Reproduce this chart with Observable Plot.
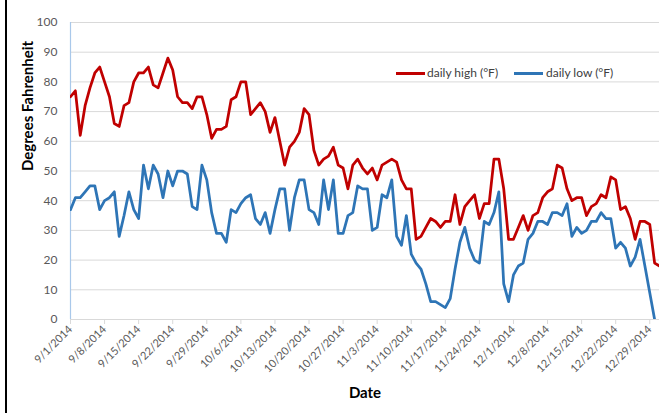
<!DOCTYPE html>
<html>
<head>
<meta charset="utf-8">
<script src="https://cdn.jsdelivr.net/npm/d3@7"></script>
<script src="https://cdn.jsdelivr.net/npm/@observablehq/plot@0.6"></script>
<style>
html, body { margin: 0; padding: 0; background: #fff; }
#wrap { position: relative; width: 666px; height: 413px; overflow: hidden; font-family: Lato, "Open Sans", sans-serif; background: #fff; }
#border { position: absolute; left: 5px; top: 0; width: 2px; height: 413px; background: #000; }
.leg { position: absolute; font-size: 12px; color: #404040; line-height: 14px; white-space: nowrap; }
.sw { position: absolute; height: 3px; width: 29px; }
</style>
</head>
<body>
<div id="wrap"><div id="border"></div></div>
<script>
// ---- data ----
const startDate = "2014-09-01";
const endDate = "2014-12-31";
const seriesNames = ["daily high (°F)", "daily low (°F)"];
const seriesColors = ["#c00000", "#2e75b6"];

const high = [
  75, 77, 62, 72, 78, 83, 85, 80, 75, 66,
  65, 72, 73, 80, 83, 83, 85, 79, 78, 83,
  88, 84, 75, 73, 73, 71, 75, 75, 69, 61,
  64, 64, 65, 74, 75, 80, 80, 69, 71, 73,
  70, 63, 68, 60, 52, 58, 60, 63, 71, 69,
  57, 52, 54, 55, 58, 52, 51, 44, 52, 54,
  51, 49, 51, 47, 52, 53, 54, 53, 47, 44,
  44, 27, 28, 31, 34, 33, 31, 33, 33, 42,
  32, 38, 40, 42, 34, 39, 39, 54, 54, 44,
  27, 27, 31, 35, 30, 35, 36, 41, 43, 44,
  52, 51, 44, 40, 41, 41, 35, 38, 39, 42,
  41, 48, 47, 37, 38, 34, 27, 33, 33, 32,
  19, 18
];

const low = [
  37, 41, 41, 43, 45, 45, 37, 40, 41, 43,
  28, 35, 43, 37, 34, 52, 44, 52, 49, 41,
  50, 45, 50, 50, 49, 38, 37, 52, 47, 36,
  29, 29, 26, 37, 36, 39, 41, 42, 34, 32,
  36, 29, 37, 44, 44, 30, 41, 47, 47, 37,
  36, 32, 47, 37, 47, 29, 29, 35, 36, 45,
  44, 44, 30, 31, 42, 41, 47, 28, 25, 35,
  22, 19, 17, 12, 6, 6, 5, 4, 7, 17,
  26, 31, 24, 20, 19, 33, 32, 36, 43, 12,
  6, 15, 18, 19, 27, 29, 33, 33, 32, 36,
  36, 35, 39, 28, 31, 29, 30, 33, 33, 36,
  34, 34, 24, 26, 24, 18, 21, 27, 18, 9,
  0, -8
];

const yTicks = [0, 10, 20, 30, 40, 50, 60, 70, 80, 90, 100];
const xTickDates = [
  "2014-09-01", "2014-09-08", "2014-09-15", "2014-09-22", "2014-09-29",
  "2014-10-06", "2014-10-13", "2014-10-20", "2014-10-27", "2014-11-03",
  "2014-11-10", "2014-11-17", "2014-11-24", "2014-12-01", "2014-12-08",
  "2014-12-15", "2014-12-22", "2014-12-29"
];
const yLabel = "Degrees Fahrenheit";
const xLabel = "Date";

// ---- build table ----
const start = new Date(startDate);
const rows = high.map((h, i) => ({ date: d3.utcDay.offset(start, i), high: h, low: low[i] }));
const xTicks = xTickDates.map(d => new Date(d));
const fmt = d => `${d.getUTCMonth() + 1}/${d.getUTCDate()}/${d.getUTCFullYear()}`;

const chart = Plot.plot({
  width: 666,
  height: 413,
  marginLeft: 70,
  marginRight: 7,
  marginTop: 22,
  marginBottom: 94,
  style: { fontFamily: "Lato, 'Open Sans', sans-serif", background: "transparent", overflow: "visible" },
  x: { type: "utc", domain: [start, new Date(endDate)] },
  y: { domain: [0, 100] },
  marks: [
    Plot.gridY(yTicks, { stroke: "#d9d9d9", strokeOpacity: 1, strokeWidth: 1 }),
    Plot.axisY(yTicks, { tickSize: 0, tickPadding: 13, fontSize: 12, label: null, fill: "#595959" }),
    // tick marks only
    Plot.axisX(xTicks, { tickSize: 5, stroke: "#d9d9d9", strokeOpacity: 1, tickFormat: () => "", label: null }),
    // tick labels only
    Plot.axisX(xTicks, { tickSize: 0, tickPadding: 8, tickRotate: -45, tickFormat: fmt, fontSize: 11, label: null, fill: "#595959" }),
    Plot.ruleY([0], { stroke: "#d9d9d9", strokeWidth: 1 }),
    Plot.ruleX([start], { stroke: "#a9c8ea", strokeWidth: 1.2 }),
    Plot.line(rows, { x: "date", y: "high", stroke: seriesColors[0], strokeWidth: 2.75, clip: true }),
    Plot.line(rows, { x: "date", y: "low", stroke: seriesColors[1], strokeWidth: 2.75, clip: true }),
    Plot.text([yLabel], { frameAnchor: "left", rotate: -90, dx: -42, fontSize: 15, fontWeight: "bold", fill: "#000" }),
    Plot.text([xLabel], { frameAnchor: "bottom", dy: 78, fontSize: 15, fontWeight: "bold", fill: "#000" })
  ]
});

const wrap = document.getElementById("wrap");
chart.style.position = "absolute";
chart.style.left = "0px";
chart.style.top = "0px";
wrap.appendChild(chart);

// ---- legend (inside plot area, top right) ----
const legendPos = [{ sw: 396, tx: 427 }, { sw: 514, tx: 546 }];
seriesNames.forEach((name, k) => {
  const sw = document.createElement("div");
  sw.className = "sw";
  sw.style.left = legendPos[k].sw + "px";
  sw.style.top = "72px";
  sw.style.background = seriesColors[k];
  wrap.appendChild(sw);
  const t = document.createElement("div");
  t.className = "leg";
  t.style.left = legendPos[k].tx + "px";
  t.style.top = "66px";
  t.textContent = name;
  wrap.appendChild(t);
});
</script>
</body>
</html>
